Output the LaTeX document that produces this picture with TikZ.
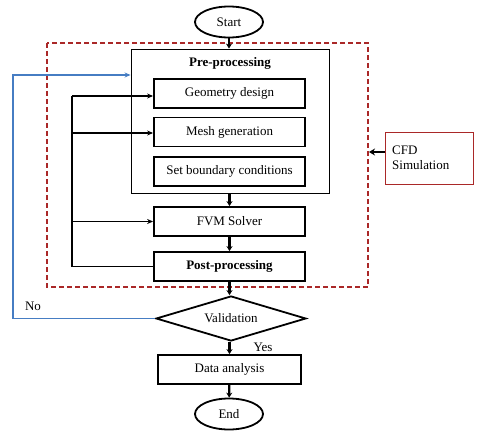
\documentclass[tikz,border=0pt]{standalone}
\usepackage{fontspec}
\setmainfont{Liberation Serif}
\usetikzlibrary{shapes.geometric,arrows.meta}
\definecolor{dred}{RGB}{170,40,40}
\definecolor{lblue}{RGB}{70,125,195}
\tikzset{
  every node/.style={font=\fontsize{13}{15}\selectfont},
  stepbox/.style={draw, line width=1.8pt, minimum width=151pt, minimum height=29pt, inner sep=0pt},
  term/.style={draw, ellipse, line width=1.8pt, minimum width=68pt, minimum height=31pt, inner sep=0pt},
  conn/.style={line width=2.2pt, -{Stealth[length=5pt,width=6pt]}},
  loopc/.style={line width=1.4pt, -{Stealth[length=6pt,width=5pt]}},
}
\begin{document}
\begin{tikzpicture}[x=1pt,y=-1pt]
\useasboundingbox (0,0) rectangle (480,436);
% containers
\draw[dred, line width=1.5pt, dash pattern=on 5pt off 3pt] (47,43) rectangle (368,287);
\node[draw, line width=0.9pt, minimum width=198pt, minimum height=144pt, inner sep=0pt] (pre) at (230,121) {};
\node[font=\fontsize{13}{15}\selectfont\bfseries] (pretitle) at (230,63) {Pre-processing};
% nodes
\node[term] (start) at (229,22) {Start};
\node[stepbox] (geo) at (229.5,93.5) {Geometry design};
\node[stepbox] (mesh) at (229.5,132) {Mesh generation};
\node[stepbox] (bc) at (229.5,171.5) {Set boundary conditions};
\node[stepbox] (fvm) at (229.5,221.5) {FVM Solver};
\node[stepbox, font=\fontsize{13}{15}\selectfont\bfseries] (post) at (229.5,266.5) {Post-processing};
\node[draw, diamond, aspect=3.33, line width=1.8pt, minimum width=150pt, minimum height=45pt, inner sep=0pt] (val) at (231,318.5) {Validation};
\node[stepbox, minimum width=143pt] (data) at (229.5,369.5) {Data analysis};
\node[term] (end) at (229,414) {End};
\node[draw=dred, line width=0.9pt, minimum width=88pt, minimum height=52pt, inner sep=0pt] (cfd) at (429,158) {};
\node[anchor=west, align=left, inner sep=0pt] (cfdtext) at (392,158) {CFD\\Simulation};
\node (yes) at (263,347) {Yes};
\node (no) at (33,306) {No};
% main flow
\draw[conn] (start) -- (pre.north -| start);
\draw[conn] (pre.south -| fvm) -- (fvm);
\draw[conn] (fvm) -- (post);
\draw[conn] (post) -- (val.north -| post);
\draw[conn] (val.south -| data) -- (data);
\draw[conn] (data) -- (end);
% feedback loop
\coordinate (lb) at (72,266.5);
\coordinate (lt) at (72,96);
\draw[line width=1.4pt] (post.west) -- (lb) -- (lt);
\draw[loopc] (lt) -- (geo.west |- lt);
\draw[loopc] (72,133) -- (mesh.west |- 0,133);
\draw[loopc] (72,221.5) -- (fvm.west);
% No loop
\coordinate (b1) at (13,318.5);
\coordinate (b2) at (13,75);
\draw[lblue, line width=1.5pt, -{Stealth[length=6pt,width=5pt]}] (val.west) -- (b1) -- (b2) -- (pre.west |- b2);
% CFD arrow
\draw[line width=2.6pt, -{Stealth[length=6pt,width=7pt]}] (cfd.west |- 0,152) -- (369,152);
\end{tikzpicture}
\end{document}
